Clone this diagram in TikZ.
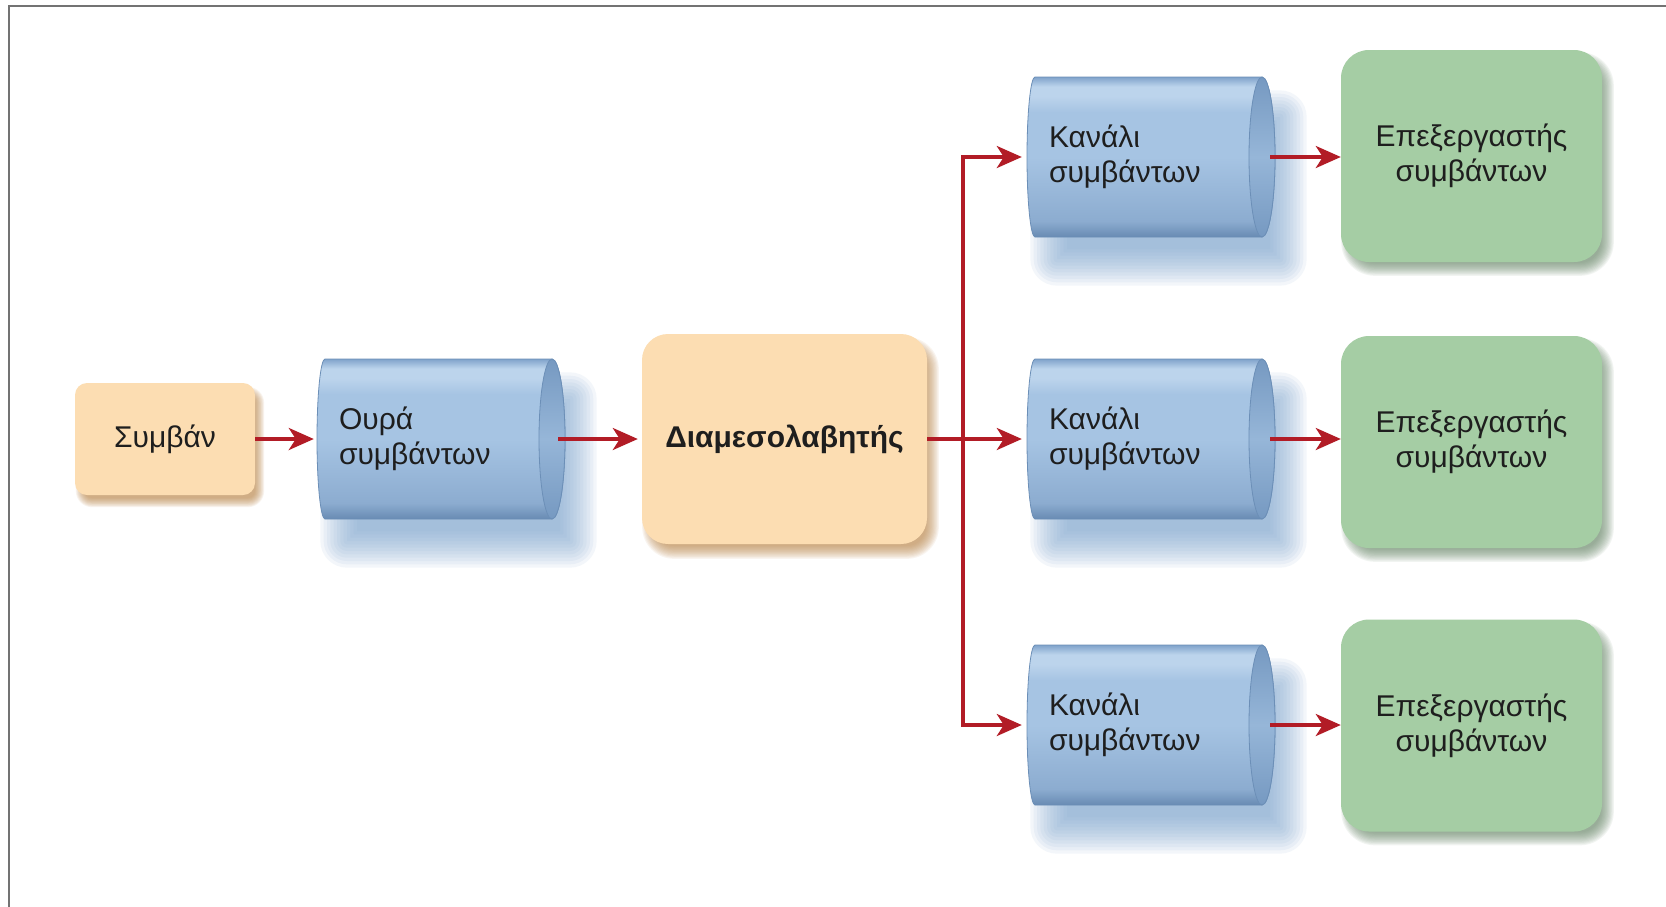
\documentclass[tikz,border=0pt]{standalone}
\usepackage{fontspec}
\setmainfont{Liberation Sans}
\usetikzlibrary{arrows.meta}

\definecolor{peach}{RGB}{252,221,178}
\definecolor{peachshade}{RGB}{190,140,80}
\definecolor{mint}{RGB}{165,205,164}
\definecolor{mintshade}{RGB}{110,140,110}
\definecolor{cylshade}{RGB}{125,165,208}
\definecolor{cylEdge}{RGB}{108,143,183}
\definecolor{cylTop}{RGB}{128,163,203}
\definecolor{cylHi}{RGB}{188,212,236}
\definecolor{cylMid}{RGB}{166,196,227}
\definecolor{cylLow}{RGB}{140,172,208}
\definecolor{cylBot}{RGB}{104,139,179}
\definecolor{capA}{RGB}{150,182,216}
\definecolor{capB}{RGB}{118,153,193}
\definecolor{arrowred}{RGB}{178,28,38}
\definecolor{ink}{RGB}{30,30,30}
\definecolor{framegray}{RGB}{115,115,115}

% body and end-cap shadings of the horizontal cylinders
\pgfdeclareverticalshading{cylbody}{100bp}{color(0bp)=(cylBot); color(25bp)=(cylBot); color(30bp)=(cylLow); color(50bp)=(cylMid); color(64bp)=(cylMid); color(69bp)=(cylHi); color(72bp)=(cylHi); color(75bp)=(cylTop); color(100bp)=(cylTop)}
\pgfdeclareverticalshading{cylcap}{100bp}{color(0bp)=(capB); color(25bp)=(capB); color(50bp)=(capA); color(75bp)=(capB); color(100bp)=(capB)}

% soft shadow: colour, x1, y1, x2, y2, corner radius, blur
\newcommand\softshade[7]{%
  \foreach \k in {1,...,12}{%
    \pgfmathsetmacro\e{#7*(1-\k/12)*2-#7}%
    \pgfmathsetmacro\xa{#2-(\e)}\pgfmathsetmacro\ya{#3-(\e)}%
    \pgfmathsetmacro\xb{#4+(\e)}\pgfmathsetmacro\yb{#5+(\e)}%
    \pgfmathsetmacro\rr{max(#6+(\e),0.5)}%
    \fill[#1, fill opacity=0.09, rounded corners=\rr pt] (\xa,\ya) rectangle (\xb,\yb);
  }}

% horizontal cylinder centred at (#1,#2), 248 x 160
\newcommand\cylinder[2]{%
  \softshade{cylshade}{#1-104}{#2-50}{#1+139}{#2+112}{10}{20}
  \shade[shading=cylbody, draw=cylEdge, line width=0.8pt]
    ({#1+111},{#2-80}) -- ({#1-116},{#2-80})
    arc[start angle=90,end angle=270,x radius=8pt,y radius=80pt]
    -- ({#1+111},{#2+80})
    arc[start angle=270,end angle=450,x radius=13pt,y radius=80pt] -- cycle;
  \shade[shading=cylcap, draw=cylEdge, line width=0.8pt]
    ({#1+111},{#2}) ellipse[x radius=13pt,y radius=80pt];
}

\tikzset{
  every node/.style={text=ink, font=\fontsize{30}{35}\selectfont},
  peachbox/.style={fill=peach, rounded corners=#1},
  peachbox/.default=12pt,
  greenbox/.style={fill=mint, rounded corners=28pt, minimum width=261pt,
    minimum height=212pt, align=center},
  cyltext/.style={minimum width=248pt, minimum height=160pt, text width=204pt,
    align=left, inner xsep=0pt},
  arr/.style={draw=arrowred, line width=3.5pt,
    -{Stealth[length=25pt,width=22pt,inset=7pt]}}
}

\begin{document}
\begin{tikzpicture}[x=1pt,y=-1pt]
\useasboundingbox (0,0) rectangle (1666,906);
\fill[white] (0,0) rectangle (1666,906);

% outer frame
\draw[framegray, line width=2.5pt] (9,910) -- (9,6) -- (1670,6);

% shadows of the rounded boxes
\softshade{peachshade}{80}{391}{260}{503}{12}{5}
\softshade{peachshade}{648}{343}{933}{553}{26}{7}
\softshade{mintshade}{1347}{58}{1608}{270}{28}{7}
\softshade{mintshade}{1347}{344}{1608}{556}{28}{7}
\softshade{mintshade}{1347}{627.5}{1608}{839.5}{28}{7}

% cylinders
\cylinder{441}{439}
\cylinder{1151}{157}
\cylinder{1151}{439}
\cylinder{1151}{725}

% nodes
\node[peachbox, minimum width=180pt, minimum height=112pt] (ev) at (165,439) {Συμβάν};
\node[cyltext] (q) at (441,439) {Ουρά\\συμβάντων};
\node[peachbox=26pt, minimum width=285pt, minimum height=210pt,
  font=\fontsize{30}{35}\selectfont\bfseries] (br) at (784.5,439) {Διαμεσολαβητής};
\node[cyltext] (c1) at (1151,157) {Κανάλι\\συμβάντων};
\node[cyltext] (c2) at (1151,439) {Κανάλι\\συμβάντων};
\node[cyltext] (c3) at (1151,725) {Κανάλι\\συμβάντων};
\node[greenbox] (g1) at (1471.5,156) {Επεξεργαστής\\συμβάντων};
\node[greenbox] (g2) at (1471.5,442) {Επεξεργαστής\\συμβάντων};
\node[greenbox] (g3) at (1471.5,725.5) {Επεξεργαστής\\συμβάντων};

% connectors
\coordinate (fork) at (963,439);
\draw[arr, shorten >=3pt] (ev) -- (q);
\draw[arr, shorten >=4pt] ([xshift=-7pt]q.east) -- (br.west);
\draw[arr, shorten >=5pt] (br.east) -- (c2.west);
\draw[arr, shorten >=5pt] (fork) |- (c1.west);
\draw[arr, shorten >=5pt] (fork) |- (c3.west);
\draw[arr] ([xshift=-5pt]c1.east) -- (c1.east -| g1.west);
\draw[arr] ([xshift=-5pt]c2.east) -- (c2.east -| g2.west);
\draw[arr] ([xshift=-5pt]c3.east) -- (c3.east -| g3.west);
\end{tikzpicture}
\end{document}
